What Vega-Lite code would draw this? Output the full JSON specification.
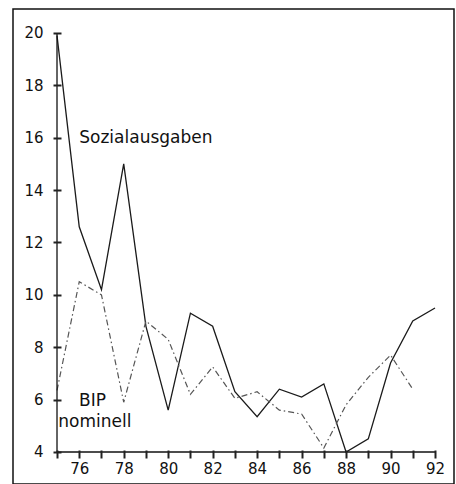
{
  "$schema": "https://vega.github.io/schema/vega-lite/v6.json",
  "width": 441,
  "height": 475,
  "autosize": {"type": "none"},
  "padding": {"left": 13, "top": 9, "right": 2, "bottom": 0},
  "background": "white",
  "config": {
    "view": {"stroke": "#111", "strokeWidth": 1.5},
    "font": "DejaVu Sans",
    "axis": {"domain": true, "domainOpacity": 0, "grid": false, "ticks": true, "tickColor": "#222", "tickWidth": 2, "tickSize": 8, "tickOpacity": 1}
  },
  "datasets": {
    "soz": [
      {"year": 75, "value": 19.9},
      {"year": 76, "value": 12.6},
      {"year": 77, "value": 10.2},
      {"year": 78, "value": 15.0},
      {"year": 79, "value": 8.8},
      {"year": 80, "value": 5.6},
      {"year": 81, "value": 9.3},
      {"year": 82, "value": 8.8},
      {"year": 83, "value": 6.3},
      {"year": 84, "value": 5.35},
      {"year": 85, "value": 6.4},
      {"year": 86, "value": 6.1},
      {"year": 87, "value": 6.6},
      {"year": 88, "value": 4.0},
      {"year": 89, "value": 4.5},
      {"year": 90, "value": 7.4},
      {"year": 91, "value": 9.0},
      {"year": 92, "value": 9.5}
    ],
    "bip": [
      {"year": 75, "value": 6.35},
      {"year": 76, "value": 10.5},
      {"year": 77, "value": 10.0},
      {"year": 78, "value": 5.9},
      {"year": 79, "value": 9.0},
      {"year": 80, "value": 8.3},
      {"year": 81, "value": 6.2},
      {"year": 82, "value": 7.25},
      {"year": 83, "value": 6.05},
      {"year": 84, "value": 6.3},
      {"year": 85, "value": 5.6},
      {"year": 86, "value": 5.45},
      {"year": 87, "value": 4.15},
      {"year": 88, "value": 5.8},
      {"year": 89, "value": 6.85},
      {"year": 90, "value": 7.7},
      {"year": 91, "value": 6.4}
    ],
    "labels": [
      {"year": 76, "value": 16, "label": "Sozialausgaben", "align": "left"},
      {"year": 76.6, "value": 5.96, "label": "BIP", "align": "center"},
      {"year": 76.7, "value": 5.16, "label": "nominell", "align": "center"}
    ],
    "one": [{}]
  },
  "encoding": {
    "x": {
      "type": "quantitative",
      "scale": {"domain": [73.021, 92.854], "nice": false, "zero": false},
      "axis": {
        "title": null,
        "values": [75,76,77,78,79,80,81,82,83,84,85,86,87,88,89,90,91,92],
        "labelExpr": "datum.value % 2 == 0 ? format(datum.value, 'd') : ''",
        "labelOverlap": false,
        "offset": -34,
        "labelPadding": 3, "labelFontSize": 15, "labelColor": "#111",
        "labelFont": "DejaVu Sans", "labelFlush": false, "zindex": 2
      }
    },
    "y": {
      "type": "quantitative",
      "scale": {"domain": [2.778, 20.916], "nice": false, "zero": false},
      "axis": {
        "title": null,
        "values": [4,6,8,10,12,14,16,18,20],
        "labelOverlap": false,
        "offset": -48,
        "labelPadding": 10, "labelFontSize": 15, "labelColor": "#111",
        "labelFont": "DejaVu Sans", "labelFlush": false, "zindex": 2
      }
    }
  },
  "layer": [
    {
      "data": {"name": "soz"},
      "mark": {"type": "line", "color": "#1a1a1a", "strokeWidth": 1.3},
      "encoding": {
        "x": {"field": "year"},
        "y": {"field": "value"}
      }
    },
    {
      "data": {"name": "bip"},
      "mark": {"type": "line", "color": "#555", "strokeWidth": 1.2, "strokeDash": [6, 3, 1.5, 3]},
      "encoding": {
        "x": {"field": "year"},
        "y": {"field": "value"}
      }
    },
    {
      "data": {"name": "one"},
      "mark": {"type": "rule", "color": "#111", "strokeWidth": 1.3},
      "encoding": {
        "x": {"datum": 75},
        "y": {"datum": 4},
        "y2": {"datum": 20}
      }
    },
    {
      "data": {"name": "one"},
      "mark": {"type": "rule", "color": "#111", "strokeWidth": 1.3},
      "encoding": {
        "x": {"datum": 75},
        "x2": {"datum": 92},
        "y": {"datum": 4}
      }
    },
    {
      "data": {"name": "labels"},
      "transform": [{"filter": "datum.align == 'left'"}],
      "mark": {"type": "text", "align": "left", "baseline": "middle", "fontSize": 17, "font": "DejaVu Sans", "color": "#111"},
      "encoding": {
        "x": {"field": "year"},
        "y": {"field": "value"},
        "text": {"field": "label"}
      }
    },
    {
      "data": {"name": "labels"},
      "transform": [{"filter": "datum.align == 'center'"}],
      "mark": {"type": "text", "align": "center", "baseline": "middle", "fontSize": 17, "font": "DejaVu Sans", "color": "#111"},
      "encoding": {
        "x": {"field": "year"},
        "y": {"field": "value"},
        "text": {"field": "label"}
      }
    }
  ]
}
